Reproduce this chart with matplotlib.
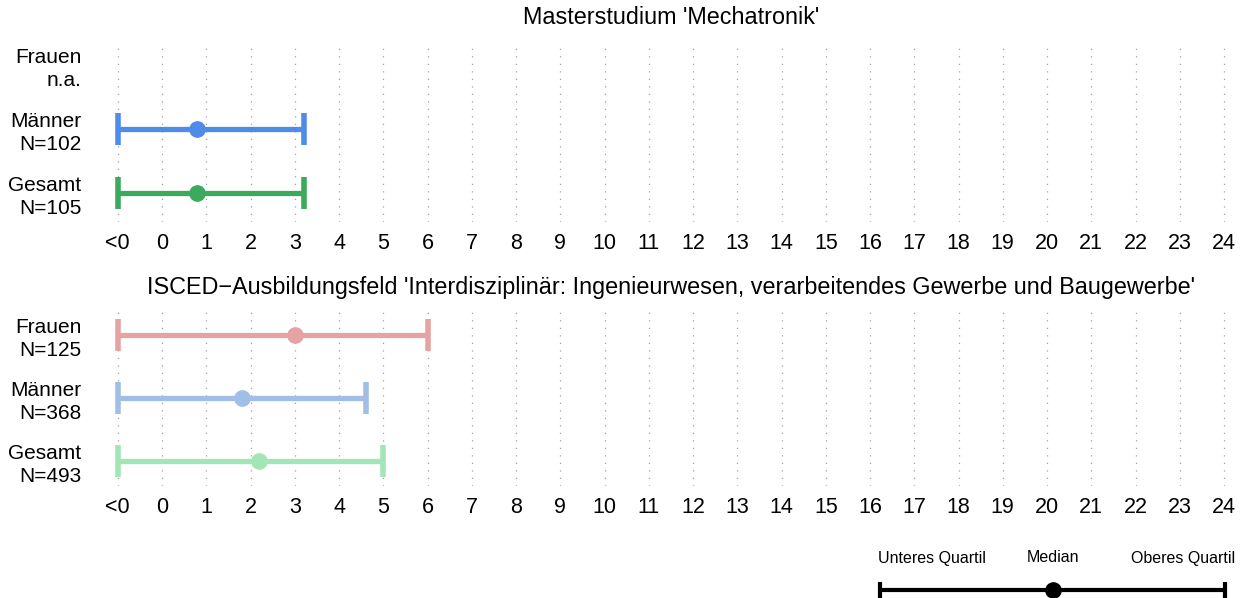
import numpy as np
import matplotlib
matplotlib.use("Agg")
import matplotlib.pyplot as plt

W, H = 1250, 598

TICK_VALUES = list(range(-1, 25))
TICK_LABELS = ["<0"] + [str(i) for i in range(0, 25)]

GROUPS = ["Frauen", "Männer", "Gesamt"]

# Masterstudium: lower quartile, median, upper quartile (-1 means "<0")
MASTER_TITLE = "Masterstudium 'Mechatronik'"
MASTER_N = ["n.a.", "N=102", "N=105"]
MASTER_LOW = [np.nan, -1, -1]
MASTER_MED = [np.nan, 0.8, 0.8]
MASTER_UP = [np.nan, 3.2, 3.2]
MASTER_COLORS = ["#E8A0A0", "#4F8BE8", "#3BAA5C"]

ISCED_TITLE = "ISCED\u2212Ausbildungsfeld 'Interdisziplinär: Ingenieurwesen, verarbeitendes Gewerbe und Baugewerbe'"
ISCED_N = ["N=125", "N=368", "N=493"]
ISCED_LOW = [-1, -1, -1]
ISCED_MED = [3.0, 1.8, 2.2]
ISCED_UP = [6.0, 4.6, 5.0]
ISCED_COLORS = ["#E6A3A3", "#A0BEE6", "#A3E6B5"]

LEGEND_LABELS = ["Unteres Quartil", "Median", "Oberes Quartil"]

plt.rcParams["font.family"] = ["Liberation Sans", "DejaVu Sans"]

fig = plt.figure(figsize=(W / 100, H / 100), dpi=100)

PX0, PXS = 162, 44.25  # pixel of value 0, pixels per unit
AX_L, AX_R = 108, 1234


def panel(top, bottom, row0, step, title, counts, low, med, up, colors):
    ax = fig.add_axes([AX_L / W, 1 - bottom / H, (AX_R - AX_L) / W, (bottom - top) / H])
    ax.set_xlim((AX_L - PX0) / PXS, (AX_R - PX0) / PXS)
    ax.set_ylim((bottom - row0) / step, (top - row0) / step)
    for v in TICK_VALUES:
        ax.axvline(v, color="#A0A0A0", lw=0.9, ls=(0, (1, 5)), zorder=0)
    for i in range(len(GROUPS)):
        if np.isnan(med[i]):
            continue
        c = colors[i]
        ax.plot([low[i], up[i]], [i, i], color=c, lw=3.8, solid_capstyle="butt", zorder=2)
        ax.plot([low[i], up[i]], [i, i], ls="none", marker="|", ms=23, mew=4, color=c, zorder=2)
        ax.plot([med[i]], [i], ls="none", marker="o", ms=11, color=c, zorder=3)
    ax.set_yticks(range(len(GROUPS)))
    ax.set_yticklabels([g + "\n" + n for g, n in zip(GROUPS, counts)], fontsize=15, linespacing=1.25)
    ax.set_xticks(TICK_VALUES)
    ax.set_xticklabels(TICK_LABELS, fontsize=15.5)
    ax.tick_params(length=0, axis="y", pad=19)
    ax.tick_params(length=0, axis="x", pad=8)
    for s in ax.spines.values():
        s.set_visible(False)
    ax.set_title(title, fontsize=16.8, pad=13)
    return ax


panel(42, 222, 65, 64, MASTER_TITLE, MASTER_N, MASTER_LOW, MASTER_MED, MASTER_UP, MASTER_COLORS)
panel(312, 486, 335, 63, ISCED_TITLE, ISCED_N, ISCED_LOW, ISCED_MED, ISCED_UP, ISCED_COLORS)

# legend
lg = fig.add_axes([860 / W, 0, 390 / W, 60 / H])
lg.set_xlim(860, 1250)
lg.set_ylim(60, 0)
lg.axis("off")
lg.plot([880, 1225], [52, 52], color="black", lw=3, solid_capstyle="butt")
lg.plot([880, 1225], [52, 52], ls="none", marker="|", ms=12, mew=3, color="black")
lg.plot([1053], [52], marker="o", ms=11, color="black")
for x, t in zip([932, 1053, 1183], LEGEND_LABELS):
    lg.text(x, 20, t, ha="center", va="center", fontsize=11.5)

fig.savefig("out.png", dpi=100)
